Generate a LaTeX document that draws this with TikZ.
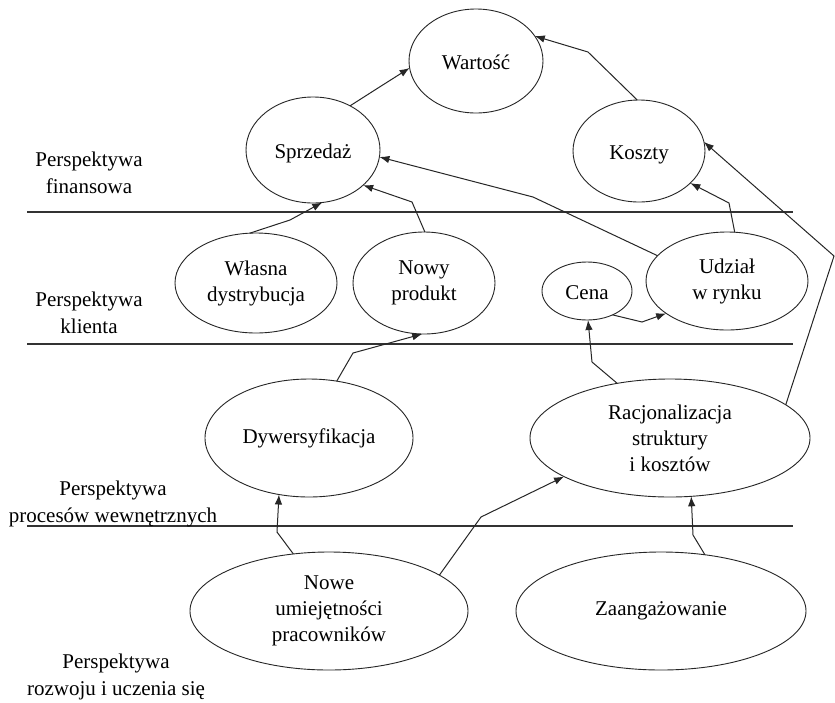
\documentclass[tikz,border=0pt]{standalone}
\usepackage{fontspec}
\setmainfont{Liberation Serif}
\usetikzlibrary{shapes.geometric,arrows.meta}
\begin{document}
\begin{tikzpicture}[x=1pt,y=-1pt,
  ell/.style={draw=black!85, ellipse, inner sep=0pt, outer sep=0pt, align=center, line width=0.9pt, font=\fontsize{21}{26}\selectfont},
  low/.style={text height=22pt, text depth=4.6pt},
  arr/.style={draw=black!85, line width=1pt, -{Latex[length=10pt,width=7.5pt]}},
  rule/.style={draw=black!80, line width=1.3pt},
  lbl/.style={align=center, anchor=north, inner sep=0pt, font=\fontsize{21}{26.5}\selectfont}]
\useasboundingbox (0,0) rectangle (835,702);
\fill[white] (0,0) rectangle (835,702);

% separators
\coordinate (r1a) at (27,212); \coordinate (r1b) at (793,212);
\coordinate (r2a) at (27,344); \coordinate (r2b) at (793,344);
\coordinate (r3a) at (27,526); \coordinate (r3b) at (793,526);
\draw[rule] (r1a) -- (r1b);
\draw[rule] (r2a) -- (r2b);
\draw[rule] (r3a) -- (r3b);

% perspective labels
\node[lbl] (L1) at (89,152) {Perspektywa\\finansowa};
\node[lbl] (L2) at (89,292) {Perspektywa\\klienta};
\node[lbl] (L3) at (113,481) {Perspektywa\\procesów wewnętrznych};
\node[lbl] (L4) at (116,654) {Perspektywa\\rozwoju i uczenia się};

% ellipses
\node[ell, low, minimum width=134pt, minimum height=104pt] (W) at (476,61) {Wartość};
\node[ell, low, minimum width=134pt, minimum height=106pt] (S) at (313,150) {Sprzedaż};
\node[ell, low, minimum width=132pt, minimum height=102pt] (K) at (639,151) {Koszty};
\node[ell, minimum width=162pt, minimum height=100pt] (WD) at (256,283) {Własna\\dystrybucja};
\node[ell, minimum width=142pt, minimum height=102pt] (NP) at (424,283) {Nowy\\produkt};
\node[ell, low, minimum width=90pt, minimum height=58pt] (C) at (587,291) {Cena};
\node[ell, minimum width=162pt, minimum height=98pt] (U) at (727,281) {Udział\\w rynku};
\node[ell, minimum width=208pt, minimum height=118pt] (D) at (309,438) {Dywersyfikacja};
\node[ell, minimum width=280pt, minimum height=118pt] (R) at (670,438) {Racjonalizacja\\struktury\\i kosztów};
\node[ell, minimum width=278pt, minimum height=118pt] (N) at (329,611) {Nowe\\umiejętności\\pracowników};
\node[ell, minimum width=290pt, minimum height=118pt] (Z) at (661,611) {Zaangażowanie};

% connectors
\draw[arr] (S.50) -- (378,88) -- (W.186);
\draw[arr] (K.92) -- (588,52) -- (W.23);
\draw[arr] (U.160) -- (533,197) -- (S.-6);
\draw[arr] (NP.89) -- (412,202) -- (S.-35);
\draw[arr] (WD.97) -- (290,220) -- (S.-80);
\draw[arr] (U.81) -- (729,203) -- (K.-32);
\draw[arr] (R.16) -- (834,256) -- (K.8);
\draw[arr] (C.-43) -- (642,322) -- (U.208);
\draw[arr] (R.134) -- (592,362) -- (C.272);
\draw[arr] (D.64) -- (353,353) -- (NP.268);
\draw[arr] (N.122) -- (277,532) -- (D.242);
\draw[arr] (N.18) -- (481,517) -- (R.200);
\draw[arr] (Z.52) -- (693,535) -- (R.-70);
\end{tikzpicture}
\end{document}
